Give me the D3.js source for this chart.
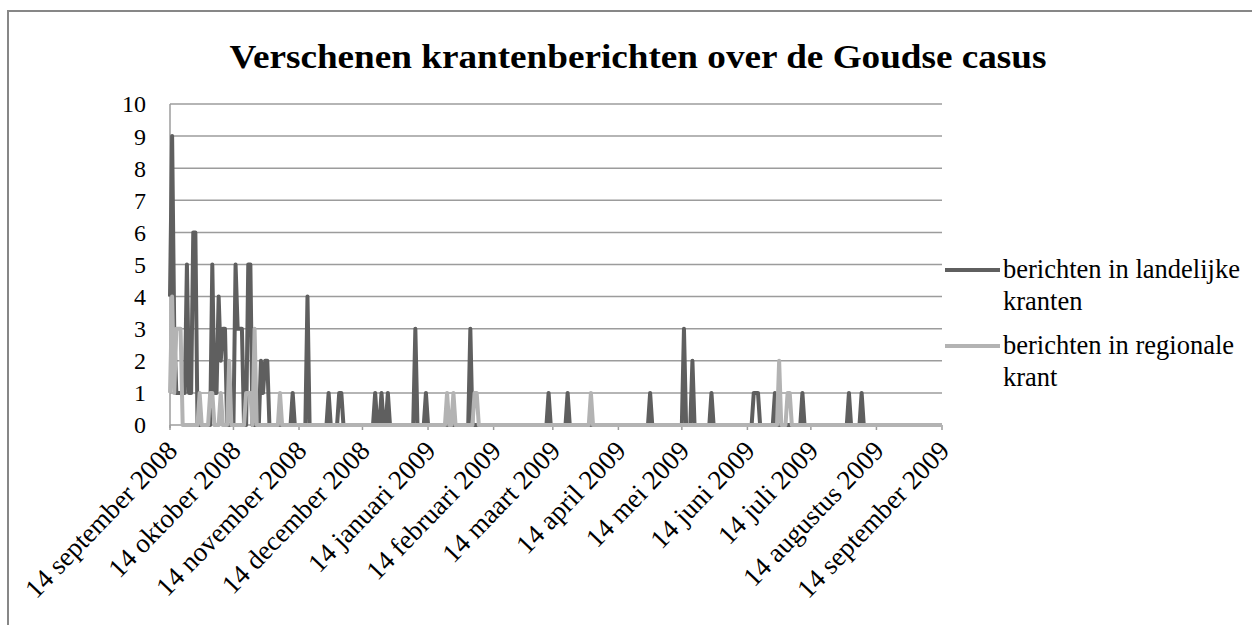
<!DOCTYPE html>
<html>
<head>
<meta charset="utf-8">
<script src="https://cdn.jsdelivr.net/npm/d3@7"></script>
<style>
  body { margin: 0; background: #fff; }
</style>
</head>
<body>
<script>
// dagen na 14 september 2008 waarop berichten verschenen, met aantallen
var landelijkDag = [0,1,2,3,4,5,6,7,8,9,10,11,12, 20,21,22,23,24,25,26, 31,32,33,34, 37,38, 43,44,45,46,
	58,65,75,80,81,97,100,103,116,121,142,179,188,227,243,247,256,276,277,278,286,299,321,327];
var landelijkAantal = [4,9,3,1,1,1,1,1,5,1,1,6,6, 5,1,1,4,2,3,3, 5,3,3,3, 5,5, 2,1,2,2,
	1,4,1,1,1,1,1,1,3,1,3,1,1,1,3,2,1,1,1,1,1,1,1,1];

var regionaalDag = [0,1,2,3,4,5, 14,19,20,24,28,36,37,38,40, 52,131,134,144,145,199,288,292,293];
var regionaalAantal = [1,4,1,3,3,3, 1,1,1,1,2,1,1,1,3, 1,1,1,1,1,1,2,1,1];

var maandLabels = ["14 september 2008","14 oktober 2008","14 november 2008","14 december 2008",
	"14 januari 2009","14 februari 2009","14 maart 2009","14 april 2009","14 mei 2009",
	"14 juni 2009","14 juli 2009","14 augustus 2009","14 september 2009"];
var yTicks = [0,1,2,3,4,5,6,7,8,9,10];
var reeksNamen = [["berichten in landelijke", "kranten"], ["berichten in regionale", "krant"]];
var reeksKleuren = ["#5f5f5f", "#b3b3b3"];

var start = new Date(Date.UTC(2008, 8, 14));
var eind = new Date(Date.UTC(2009, 8, 14));
var aantalDagen = d3.utcDay.count(start, eind);

function dagReeks(dagen, aantallen) {
	var m = new Map();
	dagen.forEach(function(d, i){ m.set(d, aantallen[i]); });
	return d3.range(aantalDagen + 1).map(function(d){
		return {date: d3.utcDay.offset(start, d), v: m.get(d) || 0};
	});
}
var reeksen = [dagReeks(landelijkDag, landelijkAantal), dagReeks(regionaalDag, regionaalAantal)];

var svg = d3.select("body").append("svg")
	.attr("width", 1252)
	.attr("height", 625)
	.attr("font-family", "'Liberation Serif', 'Times New Roman', Times, serif");

// kaderrand
svg.append("rect")
	.attr("x", 8).attr("y", 11)
	.attr("width", 1270).attr("height", 640)
	.attr("fill", "none")
	.attr("stroke", "#878787")
	.attr("stroke-width", 2);

var x = d3.scaleUtc().domain([start, eind]).range([170, 942]);
var y = d3.scaleLinear().domain([0, 10]).range([425, 104]);

svg.append("text")
	.attr("x", 638).attr("y", 68)
	.attr("text-anchor", "middle")
	.attr("font-size", 34)
	.attr("font-weight", "bold")
	.attr("textLength", 817)
	.attr("lengthAdjust", "spacingAndGlyphs")
	.text("Verschenen krantenberichten over de Goudse casus");

// rasterlijnen
svg.selectAll("line.grid")
	.data(yTicks.filter(function(d){ return d > 0; }))
	.enter().append("line")
	.attr("class", "grid")
	.attr("x1", x.range()[0]).attr("x2", x.range()[1])
	.attr("y1", function(d){ return y(d); })
	.attr("y2", function(d){ return y(d); })
	.attr("stroke", "#9c9c9c")
	.attr("stroke-width", 1.5);

svg.append("line")
	.attr("x1", 170).attr("x2", 170)
	.attr("y1", y(10)).attr("y2", y(0) + 3)
	.attr("stroke", "#9c9c9c")
	.attr("stroke-width", 1.5);

svg.selectAll("text.ytick")
	.data(yTicks)
	.enter().append("text")
	.attr("class", "ytick")
	.attr("x", 146)
	.attr("y", function(d){ return y(d); })
	.attr("dy", "0.35em")
	.attr("text-anchor", "end")
	.attr("font-size", 24)
	.text(function(d){ return d; });

// x-as
var maanden = maandLabels.map(function(l, i){ return d3.utcMonth.offset(start, i); });
svg.append("line")
	.attr("x1", 170).attr("x2", 942)
	.attr("y1", y(0)).attr("y2", y(0))
	.attr("stroke", "#9c9c9c")
	.attr("stroke-width", 1.5);
svg.selectAll("line.xtick")
	.data(maanden)
	.enter().append("line")
	.attr("class", "xtick")
	.attr("x1", function(d){ return x(d); })
	.attr("x2", function(d){ return x(d); })
	.attr("y1", y(0)).attr("y2", y(0) + 5)
	.attr("stroke", "#9c9c9c")
	.attr("stroke-width", 1.5);

svg.selectAll("text.xlabel")
	.data(maanden)
	.enter().append("text")
	.attr("class", "xlabel")
	.attr("text-anchor", "end")
	.attr("font-size", 27)
	.attr("transform", function(d){ return "translate(" + (x(d) + 9) + "," + 452 + ") rotate(-46)"; })
	.text(function(d, i){ return maandLabels[i]; });

var lijn = d3.line()
	.x(function(d){ return x(d.date); })
	.y(function(d){ return y(d.v); });

reeksen.forEach(function(r, i){
	svg.append("path")
		.datum(r)
		.attr("d", lijn)
		.attr("fill", "none")
		.attr("stroke", reeksKleuren[i])
		.attr("stroke-width", 4)
		.attr("stroke-linejoin", "round");
});

// legenda
var legY = [270, 346];
reeksNamen.forEach(function(n, i){
	svg.append("line")
		.attr("x1", 945).attr("x2", 1000)
		.attr("y1", legY[i]).attr("y2", legY[i])
		.attr("stroke", reeksKleuren[i])
		.attr("stroke-width", 4);
	svg.append("text")
		.attr("x", 1003).attr("y", legY[i] + 8)
		.attr("font-size", 26.5)
		.text(n[0]);
	svg.append("text")
		.attr("x", 1003).attr("y", legY[i] + 40)
		.attr("font-size", 26.5)
		.text(n[1]);
});
</script>
</body>
</html>
